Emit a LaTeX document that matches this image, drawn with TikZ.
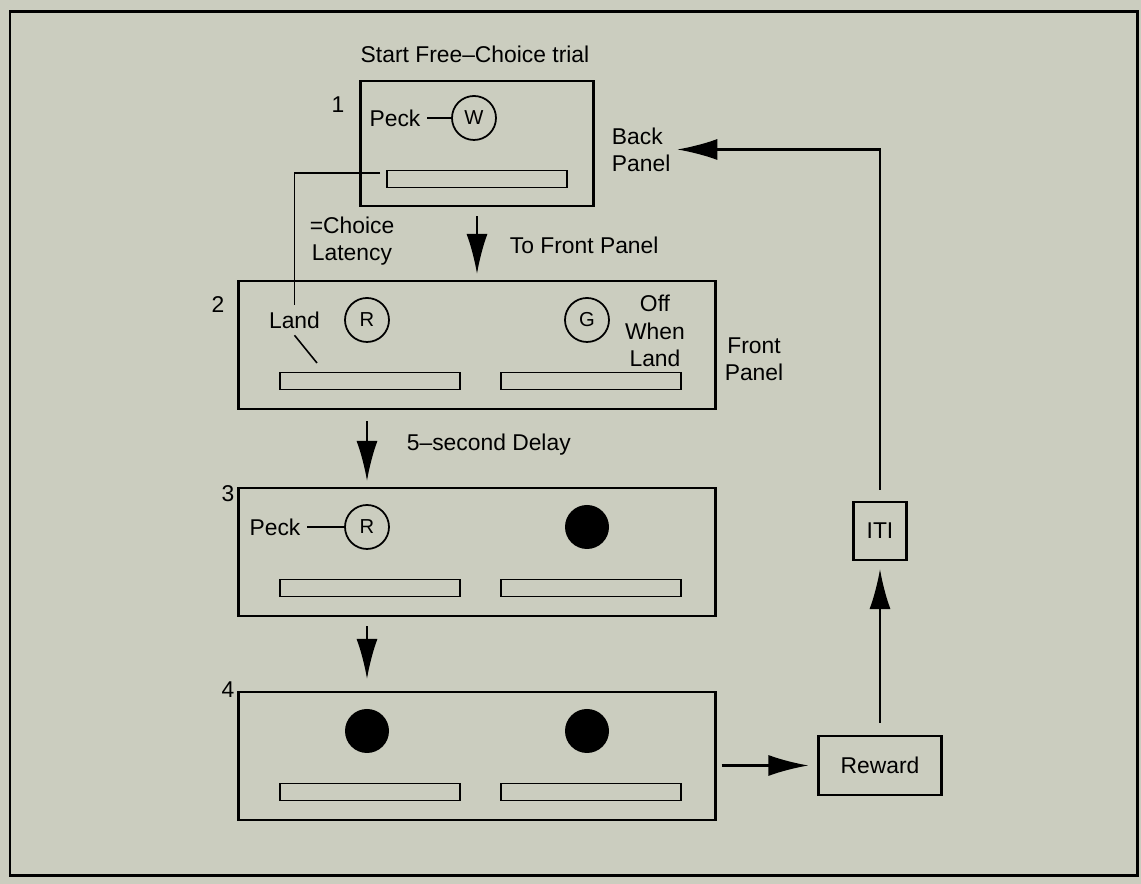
\documentclass[tikz,border=0pt]{standalone}
\usepackage{fontspec}
\setmainfont{Liberation Sans}
\usetikzlibrary{arrows.meta,calc}
\definecolor{paper}{RGB}{203,205,191}

\begin{document}
\begin{tikzpicture}[
  font=\fontsize{13}{15.5}\selectfont,
  line width=1.2pt,
  panel/.style={draw, minimum width=9.54cm, minimum height=2.56cm},
  slot/.style={draw, line width=1pt, minimum width=3.6cm, minimum height=0.34cm, inner sep=0pt},
  key/.style={draw, line width=1pt, circle, minimum size=0.88cm, inner sep=0pt, font=\fontsize{11.5}{13}\selectfont},
  dark/.style={circle, fill=black, minimum size=0.88cm, inner sep=0pt},
  thin/.style={line width=0.9pt},
  flow/.style={-{Latex[length=8mm,width=4.2mm]}}
]

\fill[paper] (0,0) rectangle (22.82,17.68);
\draw[line width=1.7pt] (0.2,0.16) rectangle (22.74,17.44);

\node (start) at (9.5,16.6) {Start Free--Choice trial};

\node (n1) at (6.76,15.58) {1};
\node[draw, minimum width=4.66cm, minimum height=2.5cm] (box1) at (9.54,14.81) {};
\node (peck1) at (7.9,15.32) {Peck};
\node[key] (w) at (9.48,15.32) {W};
\node[slot] (slot1) at (9.54,14.1) {};
\node[align=left, anchor=west] (back) at (12.1,14.69) {Back\\Panel};

\node[align=center] (latency) at (7.04,12.86) {=Choice\\Latency};
\node[anchor=west] (tofront) at (10.06,12.78) {To Front Panel};

\node (n2) at (4.36,11.58) {2};
\node[panel] (box2) at (9.54,10.78) {};
\node (land) at (5.89,11.28) {Land};
\node[key] (r2) at (7.34,11.28) {R};
\node[key] (g2) at (11.74,11.28) {G};
\node[align=center] (off) at (13.1,11.06) {Off\\When\\Land};
\node[slot] (slot2a) at (7.4,10.06) {};
\node[slot] (slot2b) at (11.82,10.06) {};
\node[align=center] (front) at (15.08,10.49) {Front\\Panel};

\node[anchor=west] (delay) at (8.0,8.78) {5--second Delay};

\node (n3) at (4.56,7.8) {3};
\node[panel] (box3) at (9.54,6.64) {};
\node (peck3) at (5.5,7.14) {Peck};
\node[key] (r3) at (7.34,7.14) {R};
\node[dark] (d3) at (11.74,7.14) {};
\node[slot] (slot3a) at (7.4,5.92) {};
\node[slot] (slot3b) at (11.82,5.92) {};

\node (n4) at (4.56,3.88) {4};
\node[panel] (box4) at (9.54,2.56) {};
\node[dark] (d4a) at (7.34,3.06) {};
\node[dark] (d4b) at (11.74,3.06) {};
\node[slot] (slot4a) at (7.4,1.84) {};
\node[slot] (slot4b) at (11.82,1.84) {};

\node[draw, minimum width=2.46cm, minimum height=1.18cm] (reward) at (17.6,2.37) {Reward};
\node[draw, minimum width=1.06cm, minimum height=1.16cm] (iti) at (17.6,7.06) {ITI};

\coordinate (tap) at (7.6,14.22);
\coordinate (touch) at (6.34,10.42);

\draw[thin] (peck1) -- (w);
\draw[thin] (peck3) -- (r3);
\draw[thin] (tap) -| (land);
\draw[thin] (land.south) -- (touch);

\draw[flow, shorten <=0.18cm, shorten >=0.12cm] (box1) -- (box2);
\draw[flow, shorten <=0.22cm, shorten >=0.12cm] (box2.south -| r2) -- (box3.north -| r2);
\draw[flow, shorten <=0.18cm, shorten >=0.24cm] (box3.south -| r3) -- (box4.north -| r3);
\draw[flow, shorten <=0.1cm, shorten >=0.18cm] (box4.east |- reward) -- (reward);
\draw[flow, shorten <=0.24cm, shorten >=0.16cm] (reward) -- (iti);
\draw[flow, shorten <=0.22cm] (iti) |- (back);

\end{tikzpicture}
\end{document}
